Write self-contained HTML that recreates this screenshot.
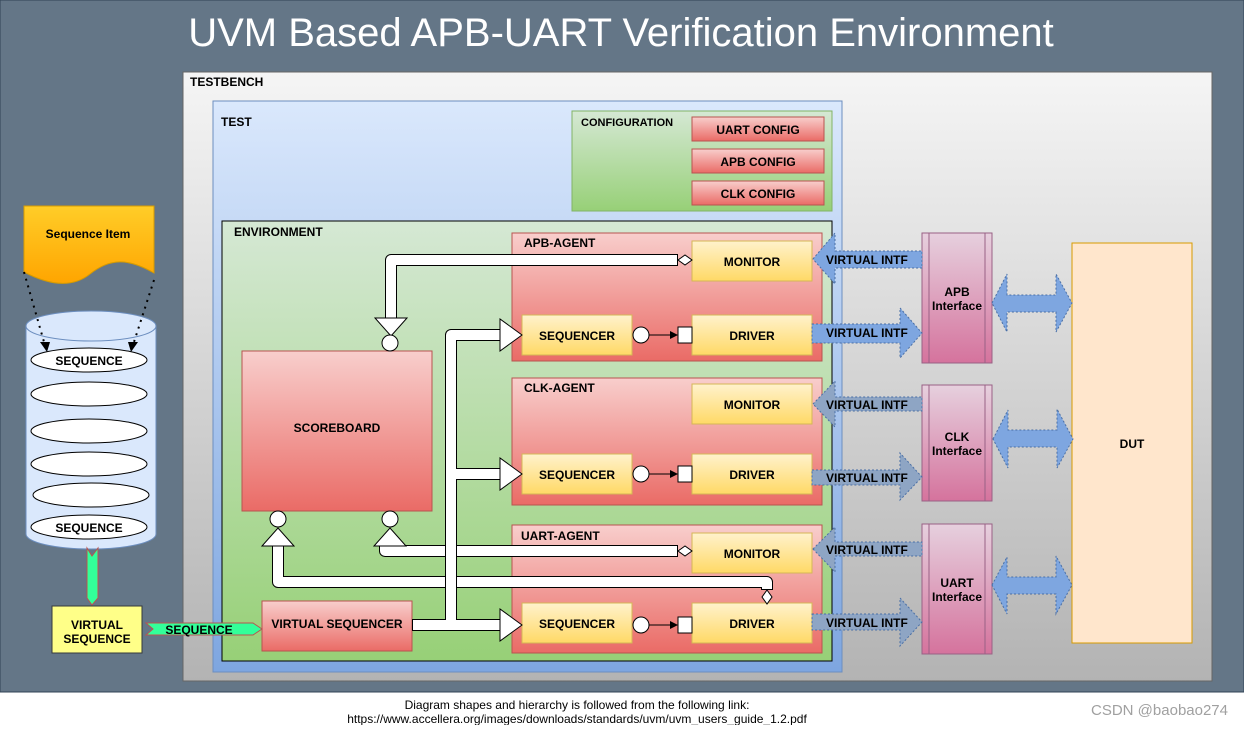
<!DOCTYPE html>
<html><head><meta charset="utf-8"><style>
body{margin:0;width:1244px;height:725px;overflow:hidden;background:#fff;font-family:"Liberation Sans",sans-serif}
svg text{font-family:"Liberation Sans",sans-serif;font-weight:bold;font-size:12px;fill:#000}
</style></head><body>
<svg width="1244" height="725" viewBox="0 0 1244 725" xmlns="http://www.w3.org/2000/svg">
<defs>
<linearGradient id="tb" x1="0" y1="0" x2="0" y2="1"><stop offset="0" stop-color="#f5f5f5"/><stop offset="1" stop-color="#b3b3b3"/></linearGradient>
<linearGradient id="bl" x1="0" y1="0" x2="0" y2="1"><stop offset="0" stop-color="#dae8fc"/><stop offset="1" stop-color="#7ea6e0"/></linearGradient>
<linearGradient id="gr" x1="0" y1="0" x2="0" y2="1"><stop offset="0" stop-color="#d5e8d4"/><stop offset="1" stop-color="#97d077"/></linearGradient>
<linearGradient id="rd" x1="0" y1="0" x2="0" y2="1"><stop offset="0" stop-color="#f8cecc"/><stop offset="1" stop-color="#ea6b66"/></linearGradient>
<linearGradient id="yl" x1="0" y1="0" x2="0" y2="1"><stop offset="0" stop-color="#fff2cc"/><stop offset="1" stop-color="#ffd966"/></linearGradient>
<linearGradient id="pk" x1="0" y1="0" x2="0" y2="1"><stop offset="0" stop-color="#e6d0de"/><stop offset="1" stop-color="#d5739d"/></linearGradient>
<linearGradient id="or" x1="0" y1="0" x2="0" y2="1"><stop offset="0" stop-color="#ffcd28"/><stop offset="1" stop-color="#ffa500"/></linearGradient>
</defs>
<rect x="0" y="0" width="1244" height="692" fill="#647687" stroke="#314354"/>
<text x="621" y="46" text-anchor="middle" style="font-size:40px;font-weight:normal;fill:#fff">UVM Based APB-UART Verification Environment</text>
<rect x="183" y="72" width="1029" height="609" fill="url(#tb)" stroke="#666"/>
<text x="190" y="86">TESTBENCH</text>
<rect x="213" y="101" width="629" height="571" fill="url(#bl)" stroke="#6c8ebf"/>
<text x="221" y="126">TEST</text>
<rect x="572" y="111" width="260" height="100" fill="url(#gr)" stroke="#82b366"/>
<text x="581" y="126" style="font-size:11px">CONFIGURATION</text>
<g stroke="#b85450" fill="url(#rd)"><rect x="692" y="117" width="132" height="24"/><rect x="692" y="149" width="132" height="24"/><rect x="692" y="181" width="132" height="24"/></g>
<g text-anchor="middle"><text x="758" y="134">UART CONFIG</text><text x="758" y="166">APB CONFIG</text><text x="758" y="198">CLK CONFIG</text></g>
<rect x="222" y="221" width="610" height="440" fill="url(#gr)" stroke="#000"/>
<text x="234" y="236">ENVIRONMENT</text>
<g stroke="#b85450" fill="url(#rd)">
<rect x="512" y="233" width="310" height="128"/><rect x="512" y="378" width="310" height="127"/><rect x="512" y="525" width="310" height="128"/>
<rect x="242" y="351" width="190" height="160"/><rect x="262" y="601" width="150" height="50"/></g>
<text x="524" y="247">APB-AGENT</text><text x="524" y="392">CLK-AGENT</text><text x="521" y="540">UART-AGENT</text>
<g stroke="#d6b656" fill="url(#yl)">
<rect x="692" y="241" width="120" height="40"/><rect x="522" y="315" width="110" height="40"/><rect x="692" y="315" width="120" height="40"/>
<rect x="692" y="384" width="120" height="40"/><rect x="522" y="454" width="110" height="40"/><rect x="692" y="454" width="120" height="40"/>
<rect x="692" y="533" width="120" height="40"/><rect x="522" y="603" width="110" height="40"/><rect x="692" y="603" width="120" height="40"/></g>
<g text-anchor="middle">
<text x="752" y="266">MONITOR</text><text x="577" y="340">SEQUENCER</text><text x="752" y="340">DRIVER</text>
<text x="752" y="409">MONITOR</text><text x="577" y="479">SEQUENCER</text><text x="752" y="479">DRIVER</text>
<text x="752" y="558">MONITOR</text><text x="577" y="628">SEQUENCER</text><text x="752" y="628">DRIVER</text>
<text x="337" y="432">SCOREBOARD</text><text x="337" y="628">VIRTUAL SEQUENCER</text></g>
<g stroke="#000" fill="#fff">
<circle cx="641" cy="335" r="8"/><rect x="678" y="327" width="14" height="16"/><line x1="649" y1="335" x2="672" y2="335"/>
<circle cx="641" cy="474" r="8"/><rect x="678" y="466" width="14" height="16"/><line x1="649" y1="474" x2="672" y2="474"/>
<circle cx="641" cy="625" r="8"/><rect x="678" y="617" width="14" height="16"/><line x1="649" y1="625" x2="672" y2="625"/>
</g>
<g fill="#000"><polygon points="678,335 670,331 670,339"/><polygon points="678,474 670,470 670,478"/><polygon points="678,625 670,621 670,629"/></g>
<!-- block arrows drawn in layers -->
<g fill="none" stroke-linejoin="round">
<path d="M678 260 H391 V318" stroke="#000" stroke-width="12"/>
<path d="M677 260 H391 V319" stroke="#fff" stroke-width="10"/>
<path d="M678 551 H385 V545" stroke="#000" stroke-width="12"/>
<path d="M677 551 H385 V544" stroke="#fff" stroke-width="10"/>
<path d="M767 590 V582 H278 V545" stroke="#000" stroke-width="12"/>
<path d="M767 589 V582 H278 V544" stroke="#fff" stroke-width="10"/>
<path d="M451 474 H502" stroke="#000" stroke-width="12"/>
<path d="M412 625 H451 V335 H502" stroke="#000" stroke-width="12"/>
<path d="M451 625 H502" stroke="#000" stroke-width="12"/>
<path d="M413 625 H451 V335 H503" stroke="#fff" stroke-width="10"/>
<path d="M451 474 H503" stroke="#fff" stroke-width="10"/><path d="M451 625 H503" stroke="#fff" stroke-width="10"/>
</g>
<g fill="#fff" stroke="#000">
<polygon points="375,318 407,318 391,336"/>
<polygon points="500,319 500,351 522,335"/><polygon points="500,458 500,490 522,474"/><polygon points="500,609 500,641 522,625"/>
<polygon points="374,546 406,546 390,528"/><polygon points="262,546 294,546 278,528"/>
<circle cx="390" cy="343" r="8"/><circle cx="390" cy="519" r="8"/><circle cx="278" cy="519" r="8"/>
<polygon points="678,260 685,255 692,260 685,265"/><polygon points="678,551 685,546 692,551 685,556"/>
<polygon points="767,590 772,597 767,604 762,597"/>
</g>
<g stroke="#996185" fill="url(#pk)">
<rect x="922" y="233" width="70" height="130"/><rect x="922" y="385" width="70" height="116"/><rect x="922" y="524" width="70" height="130"/></g>
<g stroke="#996185"><line x1="929" y1="233" x2="929" y2="363"/><line x1="985" y1="233" x2="985" y2="363"/>
<line x1="929" y1="385" x2="929" y2="501"/><line x1="985" y1="385" x2="985" y2="501"/>
<line x1="929" y1="524" x2="929" y2="654"/><line x1="985" y1="524" x2="985" y2="654"/></g>
<g text-anchor="middle"><text x="957" y="296">APB</text><text x="957" y="310">Interface</text>
<text x="957" y="441">CLK</text><text x="957" y="455">Interface</text>
<text x="957" y="587">UART</text><text x="957" y="601">Interface</text></g>
<rect x="1072" y="243" width="120" height="400" fill="#ffe6cc" stroke="#d79b00"/>
<text x="1132" y="448" text-anchor="middle">DUT</text>
<g stroke="#4a6fa5" stroke-dasharray="2,2" stroke-width="1">
<polygon fill="#7ea6e0" points="813,259 835,233 835,251 922,251 922,268 835,268 835,284"/>
<polygon fill="#7ea6e0" points="812,324 900,324 900,308 922,333 900,358 900,343 812,343"/>
<polygon fill="#8ea5c4" points="813,404 835,381 835,397 922,397 922,411 835,411 835,427"/>
<polygon fill="#8ea5c4" points="812,470 900,470 900,453 922,477 900,500 900,485 812,485"/>
<polygon fill="#8ea5c4" points="813,549 835,527 835,542 922,542 922,556 835,556 835,572"/>
<polygon fill="#8ea5c4" points="812,614 900,614 900,598 922,622 900,646 900,630 812,630"/>
<polygon fill="#7ea6e0" points="992,303 1007,274 1007,295 1056,295 1056,274 1072,303 1056,332 1056,312 1007,312 1007,332"/>
<polygon fill="#7ea6e0" points="993,439 1008,410 1008,430 1057,430 1057,409 1073,439 1057,468 1057,447 1008,447 1008,468"/>
<polygon fill="#7ea6e0" points="992,585 1007,557 1007,577 1056,577 1056,556 1072,585 1056,614 1056,594 1007,594 1007,614"/>
</g>
<g><text x="826" y="264">VIRTUAL INTF</text><text x="826" y="337">VIRTUAL INTF</text>
<text x="826" y="409">VIRTUAL INTF</text><text x="826" y="482">VIRTUAL INTF</text>
<text x="826" y="554">VIRTUAL INTF</text><text x="826" y="627">VIRTUAL INTF</text></g>
<path d="M24 206 H154 V273 C128 258 110 258 90 274 C70 290 45 283 24 272 Z" fill="url(#or)" stroke="#d79b00"/>
<text x="88" y="238" text-anchor="middle">Sequence Item</text>
<path d="M26 326 V534 A65 15 0 0 0 156 534 V326" fill="#dae8fc" stroke="#6c8ebf"/>
<ellipse cx="91" cy="326" rx="65" ry="15" fill="#dae8fc" stroke="#6c8ebf"/>
<g stroke="#000" stroke-dasharray="2,5" stroke-width="2"><line x1="24" y1="272" x2="44" y2="342"/><line x1="154" y1="280" x2="134" y2="342"/></g>
<polygon points="40,342 50,342 47,352" fill="#000"/><polygon points="128,342 138,342 131,352" fill="#000"/>
<g fill="#fff" stroke="#000">
<ellipse cx="89" cy="360" rx="58" ry="12"/><ellipse cx="89" cy="394" rx="58" ry="12"/><ellipse cx="89" cy="431" rx="58" ry="12"/>
<ellipse cx="89" cy="464" rx="58" ry="12"/><ellipse cx="91" cy="495" rx="58" ry="12"/><ellipse cx="89" cy="527" rx="58" ry="12"/></g>
<text x="89" y="365" text-anchor="middle">SEQUENCE</text><text x="89" y="532" text-anchor="middle">SEQUENCE</text>
<polygon points="87,548 92,556 98,548 98,598 92,605 87,598" fill="#33ff99" stroke="#b85450"/>
<rect x="52" y="606" width="90" height="47" fill="#ffff88" stroke="#36393d"/>
<text x="97" y="629" text-anchor="middle">VIRTUAL</text><text x="97" y="643" text-anchor="middle">SEQUENCE</text>
<polygon points="146,623 253,623 262,629 253,635 146,635 153,629" fill="#33ff99" stroke="#b85450"/>
<text x="199" y="634" text-anchor="middle">SEQUENCE</text>
<text x="577" y="709" text-anchor="middle" style="font-weight:normal">Diagram shapes and hierarchy is followed from the following link:</text>
<text x="577" y="723" text-anchor="middle" style="font-weight:normal">https://www.accellera.org/images/downloads/standards/uvm/uvm_users_guide_1.2.pdf</text>
<text x="1228" y="715" text-anchor="end" style="font-weight:normal;font-size:15px;fill:#a0a0a0">CSDN @baobao274</text>
</svg>
</body></html>
